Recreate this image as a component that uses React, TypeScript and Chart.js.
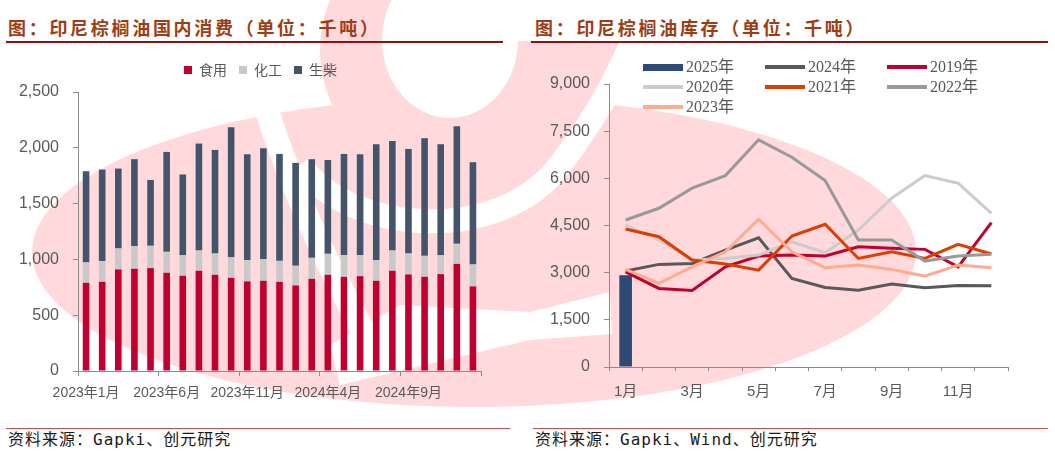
import React, { useEffect, useRef } from 'react';
import { Chart, registerables } from 'chart.js';

Chart.register(...registerables);

// ---------- Left chart data: Indonesia palm oil domestic consumption (kt) ----------
const consumptionLabels = [
  '2023年1月', '2023年2月', '2023年3月', '2023年4月', '2023年5月', '2023年6月',
  '2023年7月', '2023年8月', '2023年9月', '2023年10月', '2023年11月', '2023年12月',
  '2024年1月', '2024年2月', '2024年3月', '2024年4月', '2024年5月', '2024年6月',
  '2024年7月', '2024年8月', '2024年9月', '2024年10月', '2024年11月', '2024年12月',
  '2025年1月',
];
const foodUse = [790, 799, 910, 916, 922, 880, 853, 898, 862, 835, 803, 808, 799, 767, 826, 862, 844, 850, 808, 898, 865, 844, 868, 960, 758];
const chemicalUse = [183, 186, 188, 203, 200, 188, 185, 182, 191, 185, 191, 195, 188, 176, 188, 188, 194, 188, 186, 182, 188, 188, 170, 180, 197];
const biodieselUse = [817, 820, 716, 779, 590, 895, 723, 958, 928, 1164, 948, 993, 958, 922, 884, 841, 907, 904, 1038, 981, 937, 1054, 994, 1053, 916];

// ---------- Right chart data: Indonesia palm oil stocks (kt) ----------
const months = ['1月', '2月', '3月', '4月', '5月', '6月', '7月', '8月', '9月', '10月', '11月', '12月'];
const stock2025 = [2920, null, null, null, null, null, null, null, null, null, null, null];
const stock2024 = [3050, 3263, 3295, 3719, 4111, 2817, 2530, 2444, 2636, 2518, 2594, 2582];
const stock2019 = [3028, 2498, 2435, 3187, 3528, 3560, 3528, 3824, 3773, 3741, 3187, 4589];
const stock2020 = [4516, 4038, 3400, 3453, 3560, 3984, 3633, 4357, 5367, 6087, 5845, 4889];
const stock2021 = [4388, 4143, 3400, 3273, 3081, 4165, 4538, 3453, 3665, 3453, 3900, 3592];
const stock2022 = [4675, 5048, 5686, 6087, 7225, 6673, 5928, 4038, 4038, 3368, 3527, 3582];
const stock2023 = [3104, 2658, 3187, 3665, 4698, 3665, 3155, 3241, 3104, 2891, 3241, 3155];

const AXIS_GRAY = '#8c8c8c';
const TEXT_GRAY = '#595959';
const PINK = '#ffd9dc';

const legendSpacer = {
  id: 'legendSpacer',
  beforeInit(chart: any) {
    const lg = chart.legend;
    if (!lg) return;
    const fit = lg.fit;
    lg.fit = function () {
      fit.call(lg);
      lg.height += 5;
    };
  },
  afterLayout(chart: any) {
    const lg = chart.legend;
    if (!lg) return;
    lg.left += 20;
    lg.right += 20;
  },
};

function ConsumptionChart() {
  const ref = useRef<HTMLCanvasElement | null>(null);
  useEffect(() => {
    if (!ref.current) return;
    const chart = new Chart(ref.current, {
      type: 'bar',
      data: {
        labels: consumptionLabels,
        datasets: [
          { label: '食用', data: foodUse, backgroundColor: '#c0002e', barPercentage: 0.41, categoryPercentage: 1 },
          { label: '化工', data: chemicalUse, backgroundColor: '#c9c9c9', barPercentage: 0.41, categoryPercentage: 1 },
          { label: '生柴', data: biodieselUse, backgroundColor: '#44546a', barPercentage: 0.41, categoryPercentage: 1 },
        ],
      },
      options: {
        animation: false,
        responsive: false,
        maintainAspectRatio: false,
        layout: { padding: { top: 1, right: 31, left: 0, bottom: 0 } },
        plugins: {
          legend: {
            position: 'top',
            align: 'center',
            labels: {
              boxWidth: 8,
              boxHeight: 8,
              padding: 12,
              color: TEXT_GRAY,
              font: { family: "'Noto Sans CJK SC'", size: 14 },
            },
          },
          tooltip: { enabled: false },
        },
        scales: {
          x: {
            stacked: true,
            offset: true,
            grid: {
              offset: true,
              drawOnChartArea: false,
              drawTicks: true,
              tickLength: 5,
              color: (ctx: any) => (ctx.index === undefined || ctx.index % 5 === 0 ? AXIS_GRAY : 'rgba(0,0,0,0)'),
            },
            border: { display: true, color: AXIS_GRAY, width: 1 },
            ticks: {
              autoSkip: false,
              maxRotation: 0,
              minRotation: 0,
              padding: 9,
              color: TEXT_GRAY,
              font: { family: "'Liberation Sans', 'Noto Sans CJK SC'", size: 14 },
              callback: (_v: any, i: number) => (i % 5 === 0 ? consumptionLabels[i] : ''),
            },
            afterFit: (s: any) => {
              s.height = 44;
            },
          },
          y: {
            stacked: true,
            min: 0,
            max: 2500,
            grid: { drawOnChartArea: false, drawTicks: true, tickLength: 5, color: AXIS_GRAY },
            border: { display: true, color: AXIS_GRAY, width: 1 },
            ticks: {
              stepSize: 500,
              padding: 14,
              color: TEXT_GRAY,
              font: { family: "'Liberation Sans'", size: 16 },
              callback: (v: any) => Number(v).toLocaleString('en-US'),
            },
            afterFit: (s: any) => {
              s.width = 78;
            },
          },
        },
      },
      plugins: [legendSpacer],
    } as any);
    return () => chart.destroy();
  }, []);
  return (
    <canvas
      ref={ref}
      width={512}
      height={365}
      style={{ position: 'absolute', left: 0, top: 50, width: 512, height: 365 }}
    />
  );
}

function StockChart() {
  const ref = useRef<HTMLCanvasElement | null>(null);
  useEffect(() => {
    if (!ref.current) return;
    const line = (label: string, data: (number | null)[], color: string, order: number) => ({
      type: 'line',
      label,
      data,
      borderColor: color,
      backgroundColor: color,
      borderWidth: 3,
      pointRadius: 0,
      tension: 0,
      fill: false,
      order,
    });
    const chart = new Chart(ref.current, {
      type: 'bar',
      data: {
        labels: months,
        datasets: [
          { type: 'bar', label: '2025年', data: stock2025, backgroundColor: '#2c4a74', barPercentage: 0.38, categoryPercentage: 1, order: 10 },
          line('2024年', stock2024, '#595959', 6),
          line('2019年', stock2019, '#c0002e', 5),
          line('2020年', stock2020, '#cccccc', 4),
          line('2021年', stock2021, '#e03c00', 3),
          line('2022年', stock2022, '#999999', 2),
          line('2023年', stock2023, '#ffab92', 1),
        ],
      },
      options: {
        animation: false,
        responsive: false,
        maintainAspectRatio: false,
        layout: { padding: { top: 34, right: 47, left: 0, bottom: 0 } },
        plugins: {
          legend: { display: false },
          tooltip: { enabled: false },
        },
        scales: {
          x: {
            offset: true,
            grid: {
              offset: true,
              drawOnChartArea: false,
              drawTicks: true,
              tickLength: 4,
              color: AXIS_GRAY,
            },
            border: { display: true, color: AXIS_GRAY, width: 1 },
            ticks: {
              autoSkip: false,
              maxRotation: 0,
              minRotation: 0,
              padding: 12,
              color: TEXT_GRAY,
              font: { family: "'Liberation Sans', 'Noto Sans CJK SC'", size: 15 },
              callback: (_v: any, i: number) => (i % 2 === 0 ? months[i] : ''),
            },
            afterFit: (s: any) => {
              s.height = 48;
            },
          },
          y: {
            min: 0,
            max: 9000,
            grid: { drawOnChartArea: false, drawTicks: true, tickLength: 5, color: AXIS_GRAY },
            border: { display: true, color: AXIS_GRAY, width: 1 },
            ticks: {
              stepSize: 1500,
              padding: 14,
              color: TEXT_GRAY,
              font: { family: "'Liberation Sans'", size: 16 },
              callback: (v: any) => Number(v).toLocaleString('en-US'),
            },
            afterFit: (s: any) => {
              s.width = 79;
            },
          },
        },
      },
    } as any);
    return () => chart.destroy();
  }, []);
  return (
    <canvas
      ref={ref}
      width={525}
      height={365}
      style={{ position: 'absolute', left: 530, top: 50, width: 525, height: 365 }}
    />
  );
}

const stockLegend = [
  { label: '2025年', color: '#2c4a74', thick: 7, col: 0, row: 0 },
  { label: '2024年', color: '#595959', thick: 4, col: 1, row: 0 },
  { label: '2019年', color: '#c0002e', thick: 4, col: 2, row: 0 },
  { label: '2020年', color: '#cccccc', thick: 4, col: 0, row: 1 },
  { label: '2021年', color: '#e03c00', thick: 4, col: 1, row: 1 },
  { label: '2022年', color: '#999999', thick: 4, col: 2, row: 1 },
  { label: '2023年', color: '#ffab92', thick: 4, col: 0, row: 2 },
];
const legendColX = [643, 765, 887];
const legendRowY = [67, 87, 107];

const titleStyle: React.CSSProperties = {
  position: 'absolute',
  top: 17,
  fontFamily: "'Noto Sans CJK SC', sans-serif",
  fontWeight: 700,
  fontSize: 18,
  lineHeight: '20px',
  letterSpacing: 2.7,
  color: '#9e3c14',
  whiteSpace: 'nowrap',
};
const sourceStyle: React.CSSProperties = {
  position: 'absolute',
  top: 432,
  fontFamily: "'DejaVu Sans Mono', 'Noto Sans CJK SC', monospace",
  fontSize: 16,
  lineHeight: '16px',
  letterSpacing: 1,
  color: '#1a1a1a',
  whiteSpace: 'nowrap',
};

export default function App() {
  return (
    <div style={{ position: 'absolute', left: 0, top: 0, width: 1055, height: 454, background: '#fff', overflow: 'hidden' }}>
      <svg width={1055} height={454} style={{ position: 'absolute', left: 0, top: 0 }}>
        <ellipse cx={474} cy={252} rx={442} ry={155} fill={PINK} />
        <ellipse cx={470} cy={50} rx={150} ry={140} fill={PINK} />
        <path d="M 262 95 Q 300 220 375 352" stroke="#fff" strokeWidth={24} fill="none" />
        <path d="M 300 165 C 350 235, 500 245, 560 165 S 620 60, 640 30" stroke="#fff" strokeWidth={24} fill="none" />
        <ellipse cx={450} cy={40} rx={68} ry={78} fill="#fff" />
        <rect x={495} y={0} width={200} height={41} fill="#fff" />
        <polygon points="330,345 400,305 530,312 610,292 612,334 530,340 340,385" fill="#fff" />
      </svg>

      <div style={{ ...titleStyle, left: 8 }}>图：印尼棕榈油国内消费（单位：千吨）</div>
      <div style={{ position: 'absolute', left: 6, top: 41, width: 497, height: 2, background: '#8e1010' }} />
      <div style={{ ...titleStyle, left: 535 }}>图：印尼棕榈油库存（单位：千吨）</div>
      <div style={{ position: 'absolute', left: 531, top: 41, width: 517, height: 2, background: '#8e1010' }} />

      <ConsumptionChart />
      <StockChart />

      {stockLegend.map((it) => (
        <div
          key={it.label}
          style={{
            position: 'absolute',
            left: legendColX[it.col],
            top: legendRowY[it.row] - 10,
            height: 20,
            display: 'flex',
            alignItems: 'center',
            whiteSpace: 'nowrap',
          }}
        >
          <div style={{ width: 40, height: it.thick, background: it.color }} />
          <span
            style={{
              marginLeft: 3,
              fontFamily: "'Liberation Serif', 'Noto Sans CJK SC', serif",
              fontSize: 16,
              lineHeight: '20px',
              color: TEXT_GRAY,
            }}
          >
            {it.label}
          </span>
        </div>
      ))}

      <div style={{ position: 'absolute', left: 6, top: 428, width: 504, height: 1, background: '#c0504d' }} />
      <div style={{ position: 'absolute', left: 533, top: 428, width: 515, height: 1, background: '#c0504d' }} />
      <div style={{ ...sourceStyle, left: 8 }}>资料来源：Gapki、创元研究</div>
      <div style={{ ...sourceStyle, left: 535 }}>资料来源：Gapki、Wind、创元研究</div>
    </div>
  );
}
